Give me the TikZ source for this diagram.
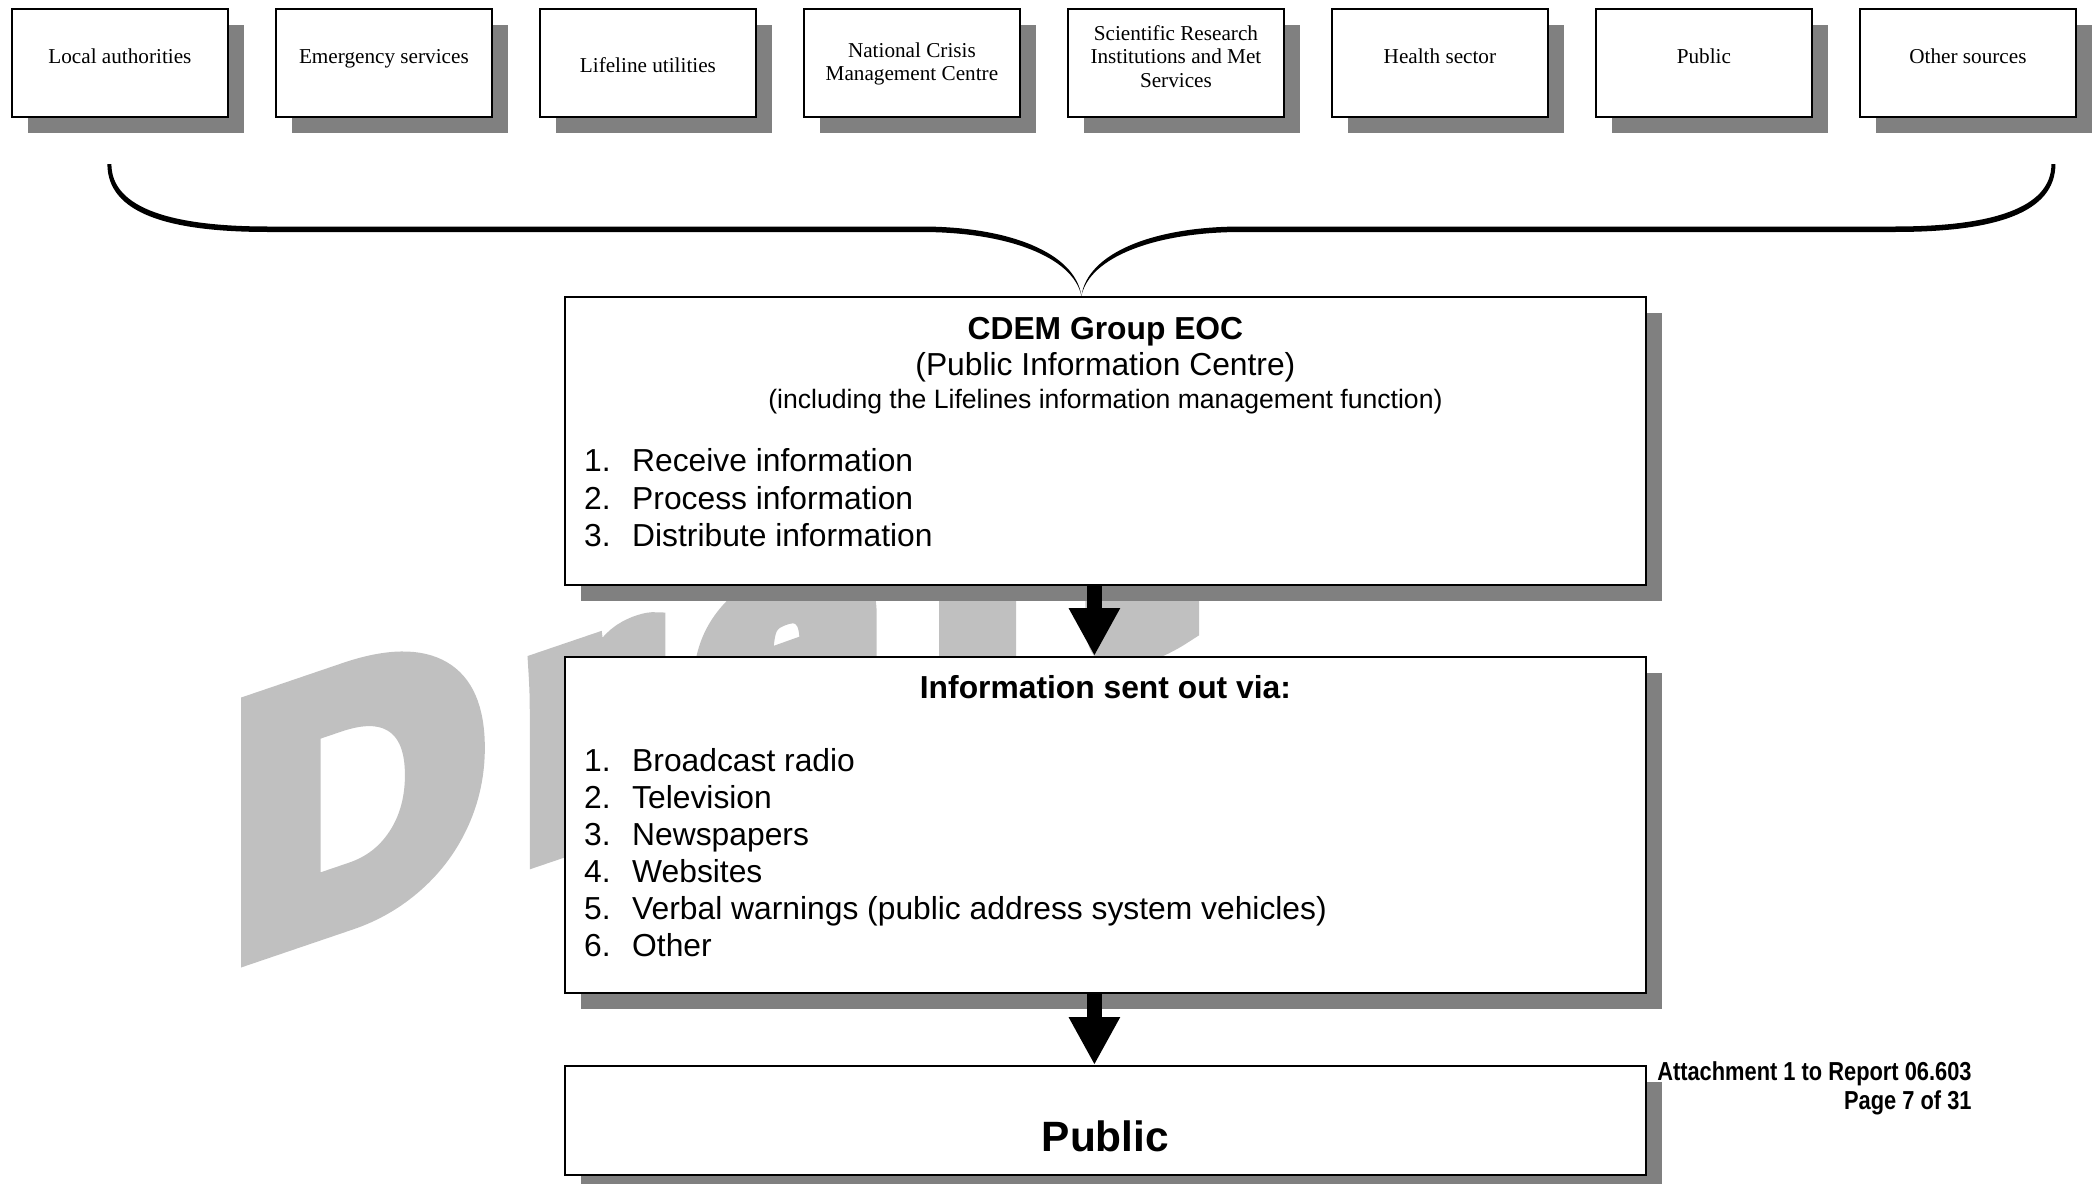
\documentclass[tikz,border=0pt]{standalone}
\usepackage{fontspec}
\setmainfont{Liberation Serif}
\newfontfamily\arialfont{Liberation Sans}
\newfontfamily\narrowfont[FakeStretch=0.84]{Liberation Sans}
\newfontfamily\draftfont[FakeBold=8.3,LetterSpace=10]{Liberation Sans Bold}
\usepackage{tikz}
\usetikzlibrary{calc}
\usetikzlibrary{arrows.meta}
\usetikzlibrary{shadows}
\usetikzlibrary{positioning}
\definecolor{shadowgray}{RGB}{128,128,128}
\definecolor{draftgray}{RGB}{192,192,192}

\begin{document}
\begin{tikzpicture}[x=1pt,y=-1pt,
	box/.style={draw=black,line width=1.8pt,fill=white,inner sep=0pt,
		drop shadow={shadow xshift=16pt,shadow yshift=-16pt,opacity=1,fill=shadowgray}},
	srcbox/.style={box,minimum width=216pt,minimum height=108pt,anchor=north west},
	bigbox/.style={box,minimum width=1081pt,anchor=north west},
	srctext/.style={inner sep=0pt,anchor=north,align=center,font=\fontsize{21.2}{23.5}\selectfont},
	item/.style={inner sep=0pt,anchor=base west,font=\arialfont\fontsize{31.8}{37}\selectfont},
	flow/.style={line width=15pt,-{Triangle[width=48pt,length=48pt]}}]
	
	\useasboundingbox (0,0) rectangle (2092,1183);
	
	\coordinate (W) at (232,956);
	\node[anchor=base west,inner sep=0pt,yslant=0.34,text=draftgray,
		font=\draftfont\fontsize{350}{350}\selectfont] (draft) at (W) {Draft};
	
	\foreach \i/\txt/\ty in {0/{Local authorities}/49, 1/{Emergency services}/49,
		2/{Lifeline utilities}/57.5, 3/{National Crisis\\Management Centre}/42.5,
		4/{Scientific Research\\Institutions and Met\\Services}/25, 5/{Health sector}/49,
		6/{Public}/49, 7/{Other sources}/49}{
		\node[srcbox] (src\i) at (11+264*\i,8) {};
		\node[srctext] (srctxt\i) at ($(src\i.north)+(0,\ty-8)$) {\txt};
	}
	
	\node[bigbox,minimum height=288pt] (cdem) at (564,296) {};
	\node[bigbox,minimum height=336pt] (info) at (564,656) {};
	\node[bigbox,minimum height=109pt] (pub) at (564,1065) {};
	
	\coordinate (tip) at ($(cdem.north)+(-24,0)$);
	\foreach \s in {1,-1}
	\fill[shift={(tip)},xscale=\s] (-970,-132) .. controls (-970,-87) and (-908,-69.5) .. (-813,-69.5)
		-- (-160,-69.5) .. controls (-72,-69.5) and (-6,-43) .. (0,0)
		.. controls (-8,-39) and (-74,-64) .. (-160,-64) -- (-813,-64)
		.. controls (-914,-64) and (-974,-83) .. (-974,-132) -- cycle;
	
	\draw[flow] ([xshift=-11pt]cdem.south) -- ([xshift=-11pt]info.north);
	\draw[flow] ([xshift=-11pt]info.south) -- ([xshift=-11pt]pub.north);
	
	\node[item,anchor=base,font=\arialfont\bfseries\fontsize{31.8}{37}\selectfont] (cdemtitle) at ($(cdem.north)+(0,43)$) {CDEM Group EOC};
	\node[item,anchor=base] (cdemsub) at ($(cdem.north)+(0,79.5)$) {(Public Information Centre)};
	\node[item,anchor=base,font=\arialfont\fontsize{26.6}{31}\selectfont] (cdemnote) at ($(cdem.north)+(0,112)$) {(including the Lifelines information management function)};
	
	\foreach \txt [count=\n] in {Receive information, Process information, Distribute information}{
		\node[item] (rnum\n) at ($(cdem.north west)+(20,138.2+37.5*\n)$) {\n.};
		\node[item] (ritem\n) at ($(cdem.north west)+(68,138.2+37.5*\n)$) {\txt};
	}
	
	\node[item,anchor=base,font=\arialfont\bfseries\fontsize{31.8}{37}\selectfont] (infotitle) at ($(info.north)+(0,42)$) {Information sent out via:};
	
	\foreach \txt [count=\n] in {Broadcast radio, Television, Newspapers, Websites,
		Verbal warnings (public address system vehicles), Other}{
		\node[item] (snum\n) at ($(info.north west)+(20,77.9+37.1*\n)$) {\n.};
		\node[item] (sitem\n) at ($(info.north west)+(68,77.9+37.1*\n)$) {\txt};
	}
	
	\node[item,anchor=base,font=\arialfont\bfseries\fontsize{42.4}{48}\selectfont] (pubtitle) at ($(pub.north)+(0,86.5)$) {Public};
	
	\node[item,anchor=base east,font=\narrowfont\bfseries\fontsize{26}{31}\selectfont] (attach) at ($(pub.north east)+(325,15.5)$) {Attachment 1 to Report 06.603};
	\node[item,anchor=base east,font=\narrowfont\bfseries\fontsize{26}{31}\selectfont] (page) at ($(pub.north east)+(325,44.5)$) {Page 7 of 31};
\end{tikzpicture}
\end{document}
